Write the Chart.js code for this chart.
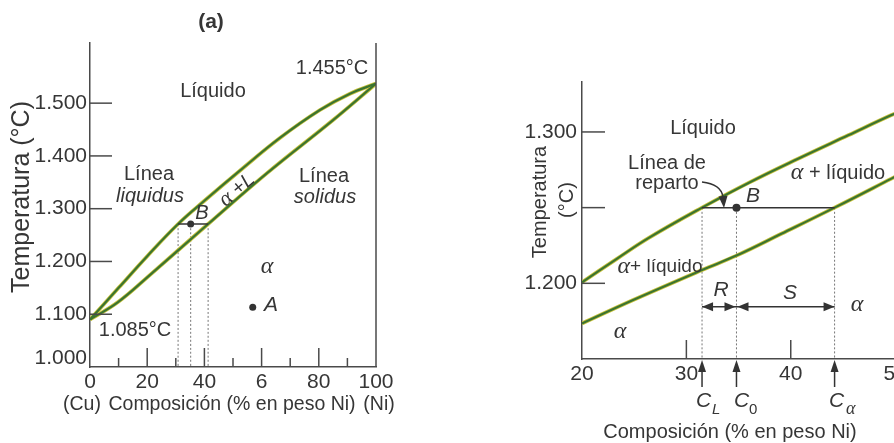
<!DOCTYPE html>
<html>
<head>
<meta charset="utf-8">
<script src="https://cdn.jsdelivr.net/npm/chart.js@4.4.1/dist/chart.umd.min.js"></script>
<style>
  html, body { margin: 0; padding: 0; background: #fff; overflow: hidden; width: 894px; height: 443px; }
  #chartA { position: absolute; left: 0; top: 0; }
  #chartB { position: absolute; left: 450px; top: 0; }
</style>
</head>
<body>
<canvas id="chartA" width="450" height="443"></canvas>
<canvas id="chartB" width="470" height="443"></canvas>
<script>
// ---- panel (a): diagrama Cu-Ni completo
const liqAx = [0, 10, 20, 30.8, 40, 52.4, 66.4, 80.4, 90.9, 100];
const liqAt = [1090, 1150, 1210, 1271, 1315, 1372, 1434, 1487, 1518, 1537];
const solAx = [0, 9.8, 21.7, 41.3, 61.8, 85, 100];
const solAt = [1090, 1123, 1178, 1271, 1367, 1468, 1537];
const tieAx = [30.8, 35.2, 41.3];   // C_L, C_0, C_alpha
const tieAt = 1271;
const pointA = [56.9, 1113];
const xTicksA = [0, 20, 40, 60, 80, 100];
const xTickLabelsA = ['0', '20', '40', '6', '80', '100'];
const xMinorA = [10, 30, 50, 70, 90];
const yTicksA = [1000, 1100, 1200, 1300, 1400, 1500];
const yTickLabelsA = ['1.000', '1.100', '1.200', '1.300', '1.400', '1.500'];

// ---- panel (b): detalle de la linea de reparto
const liqBx = [20, 23.3, 26.4, 31.5, 36.0, 40.7, 45.5, 49.6, 51];
const liqBt = [1200.7, 1216, 1230, 1250, 1266.5, 1282.3, 1297.8, 1311, 1315];
const solBx = [20, 24.9, 31.5, 34.8, 39.1, 44.2, 49.6, 51];
const solBt = [1173.5, 1189, 1208.8, 1218.3, 1232.7, 1250, 1269, 1274];
const tieBx = [31.5, 34.8, 44.2];
const tieBt = 1250;
const arrowBt = 1184.5;
const xTicksB = [20, 30, 40, 50];
const xTickLabelsB = ['20', '30', '40', '50'];
const yTicksB = [1200, 1250, 1300];
const yTickLabelsB = ['1.200', '', '1.300'];

const SANS = "'Liberation Sans', Arial, Helvetica, sans-serif";
const SERIF = "'Liberation Serif', 'Times New Roman', serif";
const INK = '#363636';
const AXIS = '#4a4a4a';

const pts = (xs, ts) => xs.map((x, i) => ({ x: x, y: ts[i] }));

function curve(xs, ts) {
    const data = pts(xs, ts);
    return [
        { data, borderColor: '#3b7430', borderWidth: 2.2, order: 2 },
        { data, borderColor: '#c9c23c', borderWidth: 3.8, order: 3 }
    ];
}

function dotted(xs, t, tMin) {
    return xs.map(x => ({
        data: [{ x: x, y: t }, { x: x, y: tMin }],
        borderColor: '#777', borderWidth: 1, borderDash: [2, 2], order: 4
    }));
}

function scales(o) {
    const tickFont = { family: SANS, size: 21 };
    return {
        x: {
            type: 'linear', min: o.xmin, max: o.xmax,
            afterBuildTicks: s => { s.ticks = o.xTicks.map(v => ({ value: v })); },
            afterFit: s => { s.height = o.xh; },
            grid: { display: false, drawTicks: false },
            border: { display: true, color: AXIS, width: 1.5 },
            ticks: { padding: 3, color: INK, font: tickFont, maxRotation: 0, autoSkip: false,
                     callback: (v, i) => o.xLabels[i] }
        },
        y: {
            type: 'linear', min: o.ymin, max: o.ymax,
            afterBuildTicks: s => { s.ticks = o.yTicks.map(v => ({ value: v })); },
            afterFit: s => { s.width = o.yw; },
            grid: { display: false, drawTicks: false },
            border: { display: true, color: AXIS, width: 1.5 },
            ticks: { padding: o.ypad, color: INK, font: tickFont, autoSkip: false,
                     callback: (v, i) => o.yLabels[i] }
        }
    };
}

// texto con tramos de distinta fuente (alfa en cursiva serif)
function runs(ctx, parts, cx, cy, rot) {
    ctx.save();
    ctx.translate(cx, cy);
    if (rot) ctx.rotate(rot);
    let w = 0;
    parts.forEach(p => { ctx.font = p[1]; w += ctx.measureText(p[0]).width; });
    let x = -w / 2;
    ctx.textAlign = 'left';
    ctx.textBaseline = 'middle';
    ctx.fillStyle = INK;
    parts.forEach(p => { ctx.font = p[1]; ctx.fillText(p[0], x, 0); x += ctx.measureText(p[0]).width; });
    ctx.restore();
}

function txt(ctx, s, x, y, font, rot) {
    runs(ctx, [[s, font]], x, y, rot);
}

function head(ctx, x, y, ang, len, wid) {
    ctx.save();
    ctx.translate(x, y);
    ctx.rotate(ang);
    ctx.beginPath();
    ctx.moveTo(0, 0);
    ctx.lineTo(-len, -wid / 2);
    ctx.lineTo(-len, wid / 2);
    ctx.closePath();
    ctx.fill();
    ctx.restore();
}

function line(ctx, x1, y1, x2, y2) {
    ctx.beginPath();
    ctx.moveTo(x1, y1);
    ctx.lineTo(x2, y2);
    ctx.stroke();
}

const f = (size, style) => (style ? style + ' ' : '') + size + 'px ' + SANS;
const greek = size => 'italic ' + size + 'px ' + SERIF;

const panelA = {
    id: 'panelA',
    afterDraw(chart) {
        const { ctx, chartArea: ca, scales: { x, y } } = chart;
        ctx.save();
        ctx.strokeStyle = AXIS;
        ctx.fillStyle = INK;
        ctx.lineWidth = 1.5;
        yTicksA.slice(1).forEach(v => line(ctx, ca.left, y.getPixelForValue(v), ca.left + 22, y.getPixelForValue(v)));
        xTicksA.slice(1, -1).forEach(v => line(ctx, x.getPixelForValue(v), ca.bottom, x.getPixelForValue(v), ca.bottom - 19));
        xMinorA.forEach(v => line(ctx, x.getPixelForValue(v), ca.bottom, x.getPixelForValue(v), ca.bottom - 9));
        line(ctx, x.getPixelForValue(100), ca.top, x.getPixelForValue(100), ca.bottom);

        // la etiqueta 1.000 va algo mas arriba que el eje
        ctx.textAlign = 'right';
        ctx.textBaseline = 'middle';
        ctx.font = f(21);
        ctx.fillText(yTickLabelsA[0], ca.left - 3, y.getPixelForValue(yTicksA[0]) - 9);

        txt(ctx, '(a)', 211, 22, f(21, 'bold'));
        txt(ctx, 'Líquido', 213, 91, f(20));
        txt(ctx, '1.455°C', 332, 68, f(20));
        txt(ctx, 'Línea', 149, 174, f(20));
        txt(ctx, 'liquidus', 150, 196, f(20, 'italic'));
        txt(ctx, 'Línea', 324, 176, f(20));
        txt(ctx, 'solidus', 325, 197, f(20, 'italic'));
        txt(ctx, '1.085°C', 135, 330, f(20));
        txt(ctx, 'B', 202, 213, f(20, 'italic'));
        txt(ctx, 'A', 271, 305, f(21, 'italic'));
        txt(ctx, 'α', 267, 267, greek(24));
        runs(ctx, [['α', greek(22)], [' +', f(20)], ['L', f(20, 'italic')]], 237, 190, -40 * Math.PI / 180);

        txt(ctx, 'Temperatura (°C)', 22, 197, f(25), -Math.PI / 2);
        txt(ctx, '(Cu)', 82, 405, f(19.5));
        txt(ctx, 'Composición (% en peso Ni)', 232, 405, f(19.5));
        txt(ctx, '(Ni)', 379, 405, f(19.5));
        ctx.restore();
    }
};

const panelB = {
    id: 'panelB',
    afterDraw(chart) {
        const { ctx, chartArea: ca, scales: { x, y } } = chart;
        ctx.save();
        ctx.strokeStyle = AXIS;
        ctx.fillStyle = INK;
        ctx.lineWidth = 1.5;
        yTicksB.forEach(v => line(ctx, ca.left, y.getPixelForValue(v), ca.left + 23, y.getPixelForValue(v)));
        [30, 40].forEach(v => line(ctx, x.getPixelForValue(v), ca.bottom, x.getPixelForValue(v), ca.bottom - 19));

        // flechas R y S
        const ay = y.getPixelForValue(arrowBt);
        const [pL, p0, pA] = tieBx.map(v => x.getPixelForValue(v));
        ctx.fillStyle = '#333';
        ctx.strokeStyle = '#333';
        ctx.lineWidth = 1.5;
        line(ctx, pL, ay, pA, ay);
        head(ctx, pL, ay, Math.PI, 11, 9);
        head(ctx, p0 - 1, ay, 0, 11, 9);
        head(ctx, p0 + 1, ay, Math.PI, 11, 9);
        head(ctx, pA, ay, 0, 11, 9);

        // flechas bajo el eje
        [pL, p0, pA].forEach(px => {
            line(ctx, px, ca.bottom + 28, px, ca.bottom + 6);
            head(ctx, px, ca.bottom + 1, -Math.PI / 2, 12, 8);
        });

        // flecha curva de "Línea de reparto"
        ctx.beginPath();
        ctx.moveTo(252, 182);
        ctx.quadraticCurveTo(271, 184, 273, 197);
        ctx.stroke();
        head(ctx, 274, 208, Math.PI / 2 - 0.08, 12, 9);

        txt(ctx, 'Líquido', 253, 128, f(20));
        txt(ctx, 'Línea de', 217, 163, f(20));
        txt(ctx, 'reparto', 217, 183, f(20));
        runs(ctx, [['α', greek(24)], [' + líquido', f(20)]], 388, 173);
        runs(ctx, [['α', greek(24)], ['+ líquido', f(19)]], 210, 267);
        txt(ctx, 'B', 303, 196, f(21, 'italic'));
        txt(ctx, 'R', 271, 290, f(21, 'italic'));
        txt(ctx, 'S', 340, 293, f(21, 'italic'));
        txt(ctx, 'α', 407, 305, greek(24));
        txt(ctx, 'α', 170, 332, greek(24));

        ctx.textAlign = 'left';
        ctx.textBaseline = 'alphabetic';
        ctx.fillStyle = INK;
        ctx.font = f(21, 'italic');
        ctx.fillText('C', 246, 407);
        ctx.fillText('C', 284, 407);
        ctx.fillText('C', 379, 407);
        ctx.font = f(15, 'italic');
        ctx.fillText('L', 262, 414);
        ctx.font = f(15);
        ctx.fillText('0', 299, 414);
        ctx.font = greek(18);
        ctx.fillText('α', 396, 414);

        txt(ctx, 'Temperatura', 90, 202, f(20), -Math.PI / 2);
        txt(ctx, '(°C)', 117, 200, f(20), -Math.PI / 2);
        txt(ctx, 'Composición (% en peso Ni)', 280, 432, f(20));
        ctx.restore();
    }
};

const baseOptions = {
    responsive: false,
    animation: false,
    events: [],
    plugins: { legend: { display: false }, tooltip: { enabled: false } },
    elements: { line: { tension: 0.4, fill: false }, point: { radius: 0 } }
};

new Chart(document.getElementById('chartA'), {
    type: 'scatter',
    data: {
        datasets: [
            { data: [{ x: tieAx[1], y: tieAt }, { x: pointA[0], y: pointA[1] }], pointRadius: 3.5,
              pointBackgroundColor: '#333', pointBorderWidth: 0, showLine: false, order: 0 },
            { data: [{ x: tieAx[0], y: tieAt }, { x: tieAx[2], y: tieAt }], borderColor: '#333', borderWidth: 1.5, order: 1 },
            ...curve(liqAx, liqAt),
            ...curve(solAx, solAt),
            ...dotted(tieAx, tieAt, 1000)
        ].map(d => Object.assign({ showLine: true, pointRadius: 0 }, d))
    },
    options: Object.assign({}, baseOptions, {
        layout: { padding: { left: 0, top: 43, right: 74, bottom: 0 } },
        scales: scales({ xmin: 0, xmax: 100, ymin: 1000, ymax: 1614, xTicks: xTicksA, xLabels: xTickLabelsA,
                         yTicks: yTicksA, yLabels: ['', ...yTickLabelsA.slice(1)], xh: 76, yw: 90, ypad: 3 })
    }),
    plugins: [panelA]
});

new Chart(document.getElementById('chartB'), {
    type: 'scatter',
    data: {
        datasets: [
            { data: [{ x: tieBx[1], y: tieBt }], pointRadius: 4, pointBackgroundColor: '#333',
              pointBorderWidth: 0, showLine: false, order: 0 },
            { data: [{ x: tieBx[0], y: tieBt }, { x: tieBx[2], y: tieBt }], borderColor: '#333', borderWidth: 1.5, order: 1 },
            ...curve(liqBx, liqBt),
            ...curve(solBx, solBt),
            ...dotted(tieBx, tieBt, 1150)
        ].map(d => Object.assign({ showLine: true, pointRadius: 0 }, d))
    },
    options: Object.assign({}, baseOptions, {
        layout: { padding: { left: 0, top: 82, right: 2, bottom: 0 } },
        scales: scales({ xmin: 20, xmax: 52, ymin: 1150, ymax: 1333, xTicks: xTicksB, xLabels: xTickLabelsB,
                         yTicks: yTicksB, yLabels: yTickLabelsB, xh: 84, yw: 132, ypad: 5 })
    }),
    plugins: [panelB]
});
</script>
</body>
</html>
